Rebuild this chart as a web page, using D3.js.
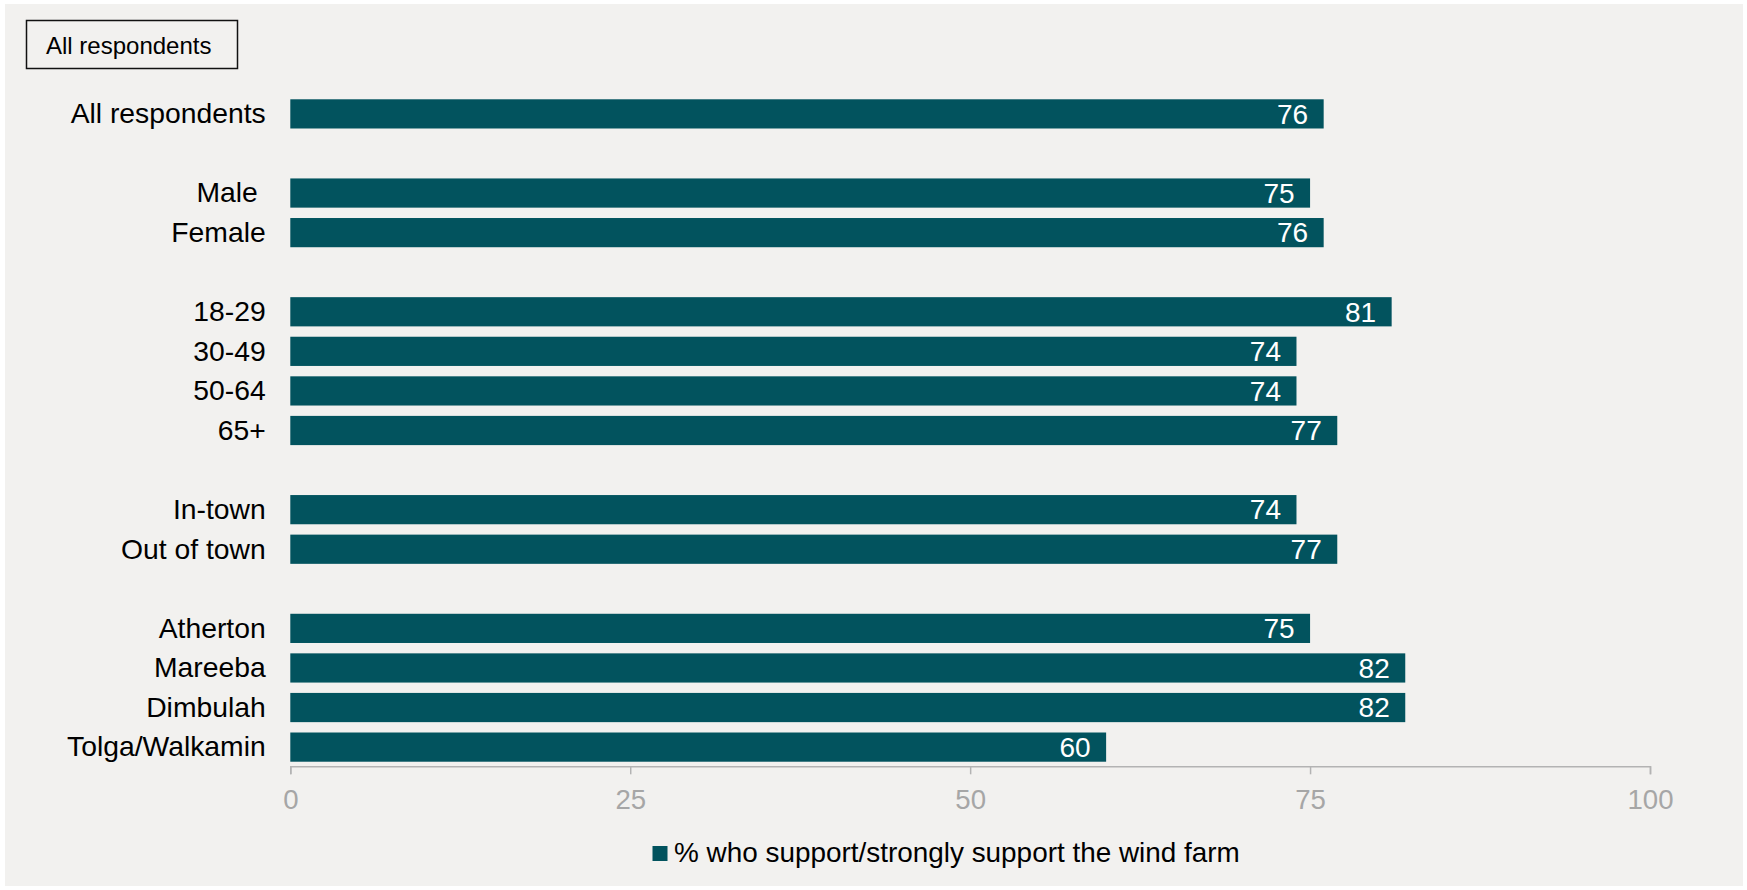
<!DOCTYPE html>
<html>
<head>
<meta charset="utf-8">
<script src="https://cdn.jsdelivr.net/npm/d3@7"></script>
<style>
  html, body { margin: 0; padding: 0; background: #ffffff; }
  svg { display: block; font-family: "Liberation Sans", Arial, sans-serif; }
</style>
</head>
<body>
<svg id="chart" width="1747" height="890"></svg>
<script>
// ---- data ----
const categories = ["All respondents", null, "Male ", "Female", null, "18-29", "30-49", "50-64", "65+", null,
                    "In-town", "Out of town", null, "Atherton", "Mareeba", "Dimbulah", "Tolga/Walkamin"];
const values = [76, null, 75, 76, null, 81, 74, 74, 77, null, 74, 77, null, 75, 82, 82, 60];
const tickValues = [0, 25, 50, 75, 100];
const seriesName = "% who support/strongly support the wind farm";
const filterLabel = "All respondents";

// ---- styles ----
const barColor = "#02535E";
const bgColor = "#F2F1EF";
const axisColor = "#B3B3B3";
const tickTextColor = "#A6A6A6";
const fontSize = 27.6;
const labelFontSize = 28.3;

const svg = d3.select("#chart");

// background panel
svg.append("rect").attr("x", 5).attr("y", 4).attr("width", 1738).attr("height", 882).attr("fill", bgColor);

// filter box
svg.append("rect").attr("x", 26.5).attr("y", 20.5).attr("width", 211).attr("height", 48)
  .attr("fill", "none").attr("stroke", "#111").attr("stroke-width", 1.5);
svg.append("text").attr("x", 46).attr("y", 54).attr("font-size", 24).attr("fill", "#000").text(filterLabel);

const idx = d3.range(categories.length);
const x = d3.scaleLinear().domain([0, 100]).range([290.3, 1650]);
const y = d3.scaleBand().domain(idx).range([94.1, 766.9]).paddingInner(0.262).paddingOuter(0.131);

const rows = idx.filter(i => categories[i] !== null);

// bars
svg.append("g").selectAll("rect").data(rows).join("rect")
  .attr("x", x(0))
  .attr("y", i => y(i))
  .attr("width", i => x(values[i]) - x(0))
  .attr("height", y.bandwidth())
  .attr("fill", barColor);

// value labels
svg.append("g").selectAll("text").data(rows).join("text")
  .attr("x", i => x(values[i]) - 15.5)
  .attr("y", i => y(i) + y.bandwidth() / 2)
  .attr("dy", "0.35em")
  .attr("text-anchor", "end")
  .attr("font-size", 28)
  .attr("fill", "#ffffff")
  .text(i => values[i]);

// category labels
svg.append("g").selectAll("text").data(rows).join("text")
  .attr("x", 265.7)
  .attr("y", i => y(i) + y.bandwidth() / 2)
  .attr("dy", "0.33em")
  .attr("text-anchor", "end")
  .attr("font-size", labelFontSize)
  .attr("fill", "#000")
  .style("white-space", "pre")
  .text(i => categories[i]);

// x axis
const axis = d3.axisBottom(x).tickValues(tickValues).tickSizeInner(8).tickSizeOuter(8).tickPadding(15);
const gx = svg.append("g").attr("transform", "translate(0,766.3)").call(axis);
gx.selectAll("path, line").attr("stroke", axisColor).attr("stroke-width", 1.5);
gx.selectAll("text").attr("font-size", fontSize).attr("fill", tickTextColor)
  .attr("font-family", "Liberation Sans, Arial, sans-serif");

// legend
svg.append("rect").attr("x", 652.5).attr("y", 846).attr("width", 15).attr("height", 15).attr("fill", barColor);
svg.append("text").attr("x", 674).attr("y", 862.3).attr("font-size", 27.9).attr("fill", "#000").text(seriesName);
</script>
</body>
</html>
